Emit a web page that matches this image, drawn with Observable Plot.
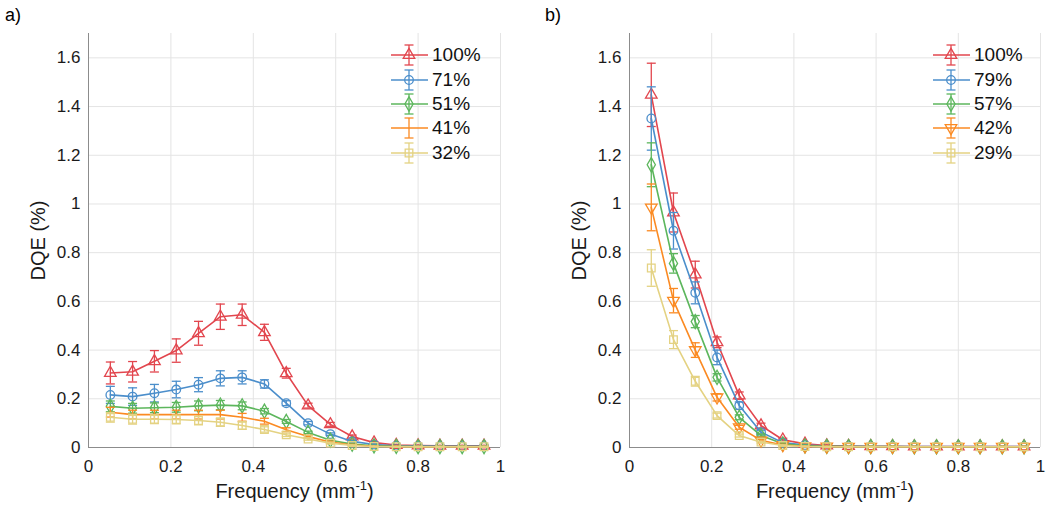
<!DOCTYPE html>
<html><head><meta charset="utf-8">
<script src="https://cdn.jsdelivr.net/npm/d3@7"></script>
<script src="https://cdn.jsdelivr.net/npm/@observablehq/plot@0.6"></script>
<style>
body{margin:0;background:#fff;font-family:"Liberation Sans",Helvetica,Arial,sans-serif;}
#wrap{position:relative;width:1050px;height:514px;overflow:hidden;background:#fff}
.panel{position:absolute;top:0}
.plabel{position:absolute;font-size:18px;color:#000;line-height:1}
.legend{position:absolute;font-size:19px;color:#111}
.legend .row{display:flex;align-items:center;height:24.4px;white-space:nowrap}
.legend svg{display:block;margin-right:4px}
</style></head><body><div id="wrap"></div><script>
// ---- data ----
const freq = [0.053, 0.107, 0.160, 0.213, 0.267, 0.320, 0.373, 0.427, 0.480, 0.533, 0.587, 0.640, 0.693, 0.747, 0.800, 0.853, 0.907, 0.960];
const xTicks = [0, 0.2, 0.4, 0.6, 0.8, 1];
const yTicks = [0, 0.2, 0.4, 0.6, 0.8, 1, 1.2, 1.4, 1.6];

const labelsA = ["100%", "71%", "51%", "41%", "32%"];
const a100 = [0.306, 0.311, 0.354, 0.398, 0.469, 0.537, 0.545, 0.473, 0.305, 0.172, 0.095, 0.045, 0.020, 0.010, 0.008, 0.007, 0.007, 0.007];
const a100e = [0.045, 0.042, 0.044, 0.048, 0.049, 0.052, 0.044, 0.033, 0.020, 0.010, 0.008, 0.006, 0.004, 0.003, 0.002, 0.002, 0.002, 0.002];
const a71 = [0.216, 0.209, 0.223, 0.238, 0.258, 0.284, 0.288, 0.261, 0.182, 0.100, 0.055, 0.025, 0.012, 0.007, 0.006, 0.005, 0.005, 0.005];
const a71e = [0.035, 0.036, 0.036, 0.034, 0.029, 0.031, 0.027, 0.017, 0.010, 0.007, 0.005, 0.004, 0.003, 0.002, 0.002, 0.002, 0.002, 0.002];
const a51 = [0.169, 0.161, 0.163, 0.165, 0.171, 0.174, 0.171, 0.149, 0.107, 0.062, 0.030, 0.014, 0.007, 0.005, 0.004, 0.004, 0.004, 0.004];
const a51e = [0.022, 0.020, 0.020, 0.020, 0.020, 0.019, 0.016, 0.011, 0.008, 0.005, 0.004, 0.003, 0.002, 0.002, 0.002, 0.002, 0.002, 0.002];
const a41 = [0.145, 0.135, 0.135, 0.135, 0.135, 0.135, 0.124, 0.108, 0.073, 0.045, 0.022, 0.010, 0.005, 0.004, 0.003, 0.003, 0.003, 0.003];
const a41e = [0.020, 0.018, 0.018, 0.018, 0.018, 0.018, 0.016, 0.012, 0.008, 0.005, 0.004, 0.003, 0.002, 0.002, 0.002, 0.002, 0.002, 0.002];
const a32 = [0.124, 0.116, 0.116, 0.115, 0.111, 0.104, 0.090, 0.074, 0.052, 0.035, 0.018, 0.008, 0.004, 0.003, 0.003, 0.003, 0.003, 0.003];
const a32e = [0.020, 0.020, 0.018, 0.018, 0.018, 0.017, 0.015, 0.011, 0.007, 0.005, 0.004, 0.003, 0.002, 0.002, 0.002, 0.002, 0.002, 0.002];

const labelsB = ["100%", "79%", "57%", "42%", "29%"];
const b100 = [1.448, 0.965, 0.710, 0.432, 0.213, 0.090, 0.032, 0.015, 0.008, 0.006, 0.005, 0.005, 0.004, 0.004, 0.004, 0.004, 0.004, 0.004];
const b100e = [0.130, 0.080, 0.055, 0.022, 0.015, 0.010, 0.006, 0.004, 0.003, 0.002, 0.002, 0.002, 0.002, 0.002, 0.002, 0.002, 0.002, 0.002];
const b79 = [1.351, 0.890, 0.635, 0.370, 0.172, 0.063, 0.020, 0.010, 0.006, 0.005, 0.004, 0.004, 0.004, 0.004, 0.004, 0.004, 0.004, 0.004];
const b79e = [0.130, 0.075, 0.045, 0.030, 0.015, 0.008, 0.005, 0.003, 0.002, 0.002, 0.002, 0.002, 0.002, 0.002, 0.002, 0.002, 0.002, 0.002];
const b57 = [1.161, 0.756, 0.517, 0.288, 0.124, 0.049, 0.015, 0.007, 0.005, 0.004, 0.004, 0.004, 0.003, 0.003, 0.003, 0.003, 0.003, 0.003];
const b57e = [0.090, 0.040, 0.025, 0.015, 0.010, 0.006, 0.004, 0.003, 0.002, 0.002, 0.002, 0.002, 0.002, 0.002, 0.002, 0.002, 0.002, 0.002];
const b42 = [0.986, 0.603, 0.400, 0.206, 0.083, 0.029, 0.010, 0.005, 0.004, 0.003, 0.003, 0.003, 0.003, 0.003, 0.003, 0.003, 0.003, 0.003];
const b42e = [0.096, 0.050, 0.030, 0.015, 0.008, 0.005, 0.003, 0.002, 0.002, 0.002, 0.002, 0.002, 0.002, 0.002, 0.002, 0.002, 0.002, 0.002];
const b29 = [0.737, 0.443, 0.272, 0.131, 0.049, 0.022, 0.008, 0.004, 0.003, 0.003, 0.003, 0.003, 0.003, 0.003, 0.003, 0.003, 0.003, 0.003];
const b29e = [0.075, 0.037, 0.020, 0.010, 0.006, 0.004, 0.003, 0.002, 0.002, 0.002, 0.002, 0.002, 0.002, 0.002, 0.002, 0.002, 0.002, 0.002];

const colors = ["#e2464e", "#4b8ecb", "#5cb65c", "#fb8a22", "#e4d282"];

// ---- symbols ----
const triDown = {draw(ctx, size) {
  const y = -Math.sqrt(size / (Math.sqrt(3) * 3));
  ctx.moveTo(0, -y * 2); ctx.lineTo(-Math.sqrt(3) * y, y); ctx.lineTo(Math.sqrt(3) * y, y); ctx.closePath();
}};
const capSym = {draw(ctx) { ctx.moveTo(-4.5, 0); ctx.lineTo(4.5, 0); }};
const symsA = [d3.symbolTriangle, d3.symbolCircle, d3.symbolDiamond, null, d3.symbolSquare];
const symsB = [d3.symbolTriangle, d3.symbolCircle, d3.symbolDiamond, triDown, d3.symbolSquare];

const fmt = d => d3.format("~g")(d);
const FONT = '"Liberation Sans", Helvetica, Arial, sans-serif';

function makePanel(vals, errs, labels, syms, ml, mr) {
  const marks = [
    Plot.gridX(xTicks, {stroke: "#e4e4e4", strokeOpacity: 1}),
    Plot.gridY(yTicks, {stroke: "#e4e4e4", strokeOpacity: 1}),
    Plot.ruleX([0], {stroke: "#8c8c8c"}),
    Plot.ruleY([0], {stroke: "#8c8c8c"}),
    Plot.axisX({ticks: xTicks, tickSize: 0, tickPadding: 12, tickFormat: fmt, fontSize: 17,
      label: "Frequency (mm-1)", labelAnchor: "center", labelArrow: "none", labelOffset: 50}),
    Plot.axisY({ticks: yTicks, tickSize: 0, tickPadding: 8, tickFormat: fmt, fontSize: 17,
      label: "DQE (%)", labelAnchor: "center", labelArrow: "none", labelOffset: 58})
  ];
  labels.forEach((lab, i) => {
    const d = freq.map((f, j) => ({s: lab, f, v: vals[i][j], e: errs[i][j]}));
    const c = colors[i];
    marks.push(Plot.ruleX(d, {x: "f", y1: r => r.v - r.e, y2: r => r.v + r.e, stroke: c, strokeWidth: 1.3}));
    marks.push(Plot.dot(d, {x: "f", y: r => r.v + r.e, symbol: capSym, r: 3, stroke: c, strokeWidth: 1.3}));
    marks.push(Plot.dot(d, {x: "f", y: r => r.v - r.e, symbol: capSym, r: 3, stroke: c, strokeWidth: 1.3}));
    marks.push(Plot.line(d, {x: "f", y: "v", stroke: c, strokeWidth: 1.6}));
    if (syms[i]) marks.push(Plot.dot(d, {x: "f", y: "v", symbol: syms[i], r: 4.3, stroke: c, fill: "none", strokeWidth: 1.3}));
  });
  const svg = Plot.plot({
    width: 525, height: 514, marginLeft: ml, marginRight: mr, marginTop: 33, marginBottom: 67,
    x: {domain: [0, 1]}, y: {domain: [0, 1.7]},
    style: {fontFamily: FONT, color: "#1a1a1a", background: "white"},
    marks
  });
  // label styling & superscript
  const xl = svg.querySelector('g[aria-label="x-axis label"]');
  if (xl) {
    xl.setAttribute("font-size", 20);
    const t = xl.querySelector("text");
    t.textContent = "";
    const ns = "http://www.w3.org/2000/svg";
    const t1 = document.createElementNS(ns, "tspan"); t1.textContent = "Frequency (mm";
    const t2 = document.createElementNS(ns, "tspan"); t2.textContent = "-1"; t2.setAttribute("dy", "-8"); t2.setAttribute("font-size", 13);
    const t3 = document.createElementNS(ns, "tspan"); t3.textContent = ")"; t3.setAttribute("dy", "8");
    t.append(t1, t2, t3);
  }
  const yl = svg.querySelector('g[aria-label="y-axis label"]');
  if (yl) yl.setAttribute("font-size", 20);
  return svg;
}

function makeLegend(labels, syms, left) {
  const div = document.createElement("div");
  div.className = "legend";
  div.style.left = left + "px";
  div.style.top = "43px";
  labels.forEach((lab, i) => {
    const row = document.createElement("div"); row.className = "row";
    const c = colors[i];
    const sym = syms[i] ? `<path transform="translate(18,12)" d="${d3.symbol(syms[i], 4.3 * 4.3 * Math.PI)()}" fill="none" stroke="${c}" stroke-width="1.3"/>` : "";
    row.innerHTML = `<svg width="37" height="24"><line x1="0" x2="37" y1="12" y2="12" stroke="${c}" stroke-width="1.6"/>
      <line x1="18" x2="18" y1="2" y2="22" stroke="${c}" stroke-width="1.3"/>
      <line x1="13.5" x2="22.5" y1="2" y2="2" stroke="${c}" stroke-width="1.3"/>
      <line x1="13.5" x2="22.5" y1="22" y2="22" stroke="${c}" stroke-width="1.3"/>${sym}</svg><span>${lab}</span>`;
    div.appendChild(row);
  });
  return div;
}

const wrap = document.getElementById("wrap");
const pa = document.createElement("div"); pa.className = "panel"; pa.style.left = "0px";
pa.appendChild(makePanel([a100, a71, a51, a41, a32], [a100e, a71e, a51e, a41e, a32e], labelsA, symsA, 88, 25));
const pb = document.createElement("div"); pb.className = "panel"; pb.style.left = "525px";
pb.appendChild(makePanel([b100, b79, b57, b42, b29], [b100e, b79e, b57e, b42e, b29e], labelsB, symsB, 104, 10));
wrap.append(pa, pb);
wrap.appendChild(makeLegend(labelsA, symsA, 391));
wrap.appendChild(makeLegend(labelsB, symsB, 933));
const la = document.createElement("div"); la.className = "plabel"; la.style.left = "5px"; la.style.top = "6px"; la.textContent = "a)";
const lb = document.createElement("div"); lb.className = "plabel"; lb.style.left = "545px"; lb.style.top = "6px"; lb.textContent = "b)";
wrap.append(la, lb);
</script></body></html>
